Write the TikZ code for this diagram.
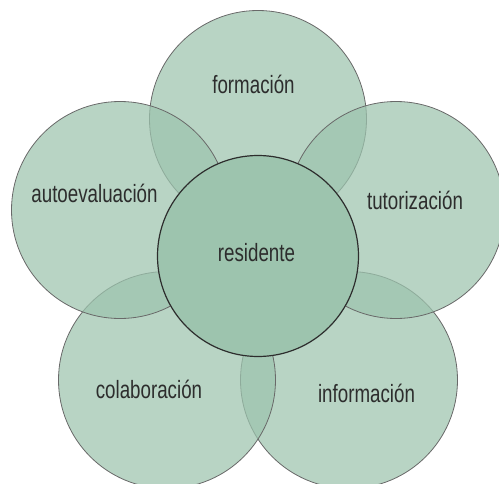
\documentclass[tikz,border=0pt]{standalone}
\usepackage{fontspec}
\setmainfont{Liberation Sans}[FakeStretch=0.75]
\usepackage{tikz}
\usetikzlibrary{positioning}
\definecolor{leaf}{RGB}{157,196,174}
\definecolor{rim}{RGB}{105,105,105}
\definecolor{ink}{RGB}{45,45,45}
\tikzset{
x=1pt, y=-1pt, % pixel-like units, y going down
petal/.style={circle, inner sep=0pt, minimum size=217pt, fill=leaf, fill opacity=0.73, draw=rim, line width=0.8pt}, % the outer circles
core/.style={circle, inner sep=0pt, minimum size=201pt, fill=leaf, draw=ink, line width=1.2pt}, % the middle circle
word/.style={anchor=base, inner sep=0pt, text=ink, font=\fontsize{25}{30}\selectfont}, % the labels
}
\newcommand{\wtxt}[1]{#1}

\begin{document}
\begin{tikzpicture}
  \useasboundingbox (0,0) rectangle (499,483);
  \clip (0,0) rectangle (499,483);

  \node[petal] (info) at (349,380) {};
  \node[petal] (colab) at (167,380) {};
  \node[petal] (form) at (258,119) {};
  \node[petal] (auto) at (120,210) {};
  \node[petal] (tutor) at (396,210) {};
  \node[core] (res) at (258,256) {};

  \node[word] (tform) at (253.5,93) {\wtxt{formación}};
  \node[word] (tauto) at (94.5,202) {\wtxt{autoevaluación}};
  \node[word] (ttutor) at (415,209) {\wtxt{tutorización}};
  \node[word] (tres) at (256.5,261) {\wtxt{residente}};
  \node[word] (tcolab) at (149,398) {\wtxt{colaboración}};
  \node[word] (tinfo) at (366.5,402) {\wtxt{información}};
\end{tikzpicture}
\end{document}
